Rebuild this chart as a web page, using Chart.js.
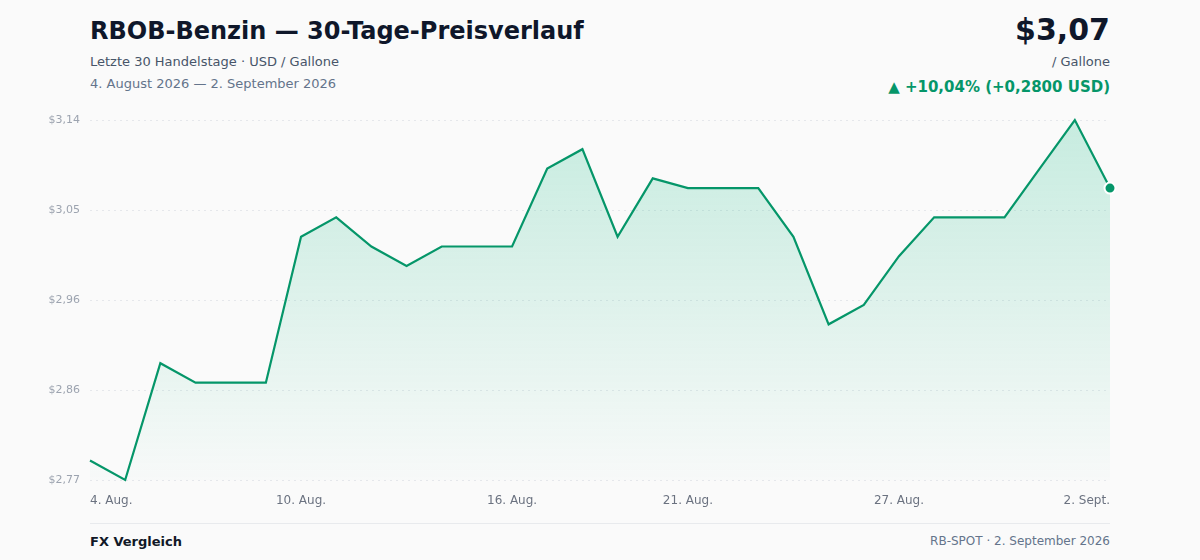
<!DOCTYPE html>
<html lang="de">
<head>
<meta charset="utf-8">
<title>RBOB-Benzin — 30-Tage-Preisverlauf</title>
<script src="https://cdn.jsdelivr.net/npm/chart.js@4/dist/chart.umd.min.js"></script>
<style>
  html, body { margin: 0; padding: 0; background: #fafafa; }
  body { width: 1200px; height: 560px; position: relative; overflow: hidden; font-family: "DejaVu Sans", sans-serif; }
  .title { position: absolute; left: 90px; top: 17px; font-size: 24px; font-weight: bold; color: #0f172a; }
  .sub { position: absolute; left: 90px; top: 54px; font-size: 13px; color: #475569; }
  .dates { position: absolute; left: 90px; top: 76px; font-size: 13px; color: #64748b; }
  .price { position: absolute; right: 90px; top: 12px; font-size: 30px; font-weight: bold; color: #0f172a; }
  .unit { position: absolute; right: 90px; top: 54px; font-size: 13px; color: #475569; }
  .change { position: absolute; right: 90px; top: 78px; font-size: 15px; font-weight: bold; color: #059669; }
  #wrap { position: absolute; left: 0; top: 100px; width: 1200px; height: 420px; }
  .sep { position: absolute; left: 90px; top: 523px; width: 1020px; height: 1px; background: #e8eaed; }
  .foot-l { position: absolute; left: 90px; top: 534px; font-size: 13px; font-weight: bold; color: #111827; }
  .foot-r { position: absolute; right: 90px; top: 534px; font-size: 12px; color: #64748b; }
</style>
</head>
<body>
<div class="title">RBOB-Benzin — 30-Tage-Preisverlauf</div>
<div class="sub">Letzte 30 Handelstage · USD / Gallone</div>
<div class="dates">4. August 2026 — 2. September 2026</div>
<div class="price">$3,07</div>
<div class="unit">/ Gallone</div>
<div class="change">▲ +10,04% (+0,2800 USD)</div>
<div id="wrap"><canvas id="chart"></canvas></div>
<div class="sep"></div>
<div class="foot-l">FX Vergleich</div>
<div class="foot-r">RB-SPOT · 2. September 2026</div>

<script>
const days = [
  "4. Aug.", "5. Aug.", "6. Aug.", "7. Aug.", "8. Aug.", "9. Aug.", "10. Aug.",
  "11. Aug.", "12. Aug.", "13. Aug.", "14. Aug.", "15. Aug.", "16. Aug.", "17. Aug.",
  "18. Aug.", "19. Aug.", "20. Aug.", "21. Aug.", "22. Aug.", "23. Aug.", "24. Aug.",
  "25. Aug.", "26. Aug.", "27. Aug.", "28. Aug.", "29. Aug.", "30. Aug.", "31. Aug.",
  "1. Sept.", "2. Sept."
];
const prices = [
  2.79, 2.77, 2.89, 2.87, 2.87, 2.87, 3.02, 3.04, 3.01, 2.99,
  3.01, 3.01, 3.01, 3.09, 3.11, 3.02, 3.08, 3.07, 3.07, 3.07,
  3.02, 2.93, 2.95, 3.00, 3.04, 3.04, 3.04, 3.09, 3.14, 3.07
];
const shownDayIdx = [0, 6, 12, 17, 23, 29];
const yTickValues = [2.77, 2.8625, 2.955, 3.0475, 3.14];
const yTickLabels = ["$2,77", "$2,86", "$2,96", "$3,05", "$3,14"];

const green = "#059669";

function fillGradient(ctx) {
  const area = ctx.chart.chartArea;
  if (!area) return "rgba(5,150,105,0.15)";
  const g = ctx.chart.ctx.createLinearGradient(0, area.top, 0, area.bottom);
  g.addColorStop(0, "rgba(16,185,129,0.22)");
  g.addColorStop(1, "rgba(16,185,129,0.01)");
  return g;
}

const last = prices.length - 1;

new Chart(document.getElementById("chart"), {
  type: "line",
  data: {
    labels: days,
    datasets: [
      {
        data: prices,
        borderColor: green,
        borderWidth: 2.2,
        tension: 0,
        fill: "start",
        backgroundColor: fillGradient,
        pointRadius: prices.map((_, i) => (i === last ? 5.5 : 0)),
        pointBackgroundColor: green,
        pointBorderColor: "#ffffff",
        pointBorderWidth: 2,
        clip: false,
      },
    ],
  },
  options: {
    responsive: true,
    maintainAspectRatio: false,
    animation: false,
    events: [],
    layout: { padding: { top: 20, right: 90, bottom: 0, left: 0 } },
    plugins: { legend: { display: false }, tooltip: { enabled: false } },
    scales: {
      x: {
        offset: false,
        grid: { display: false, drawTicks: false },
        border: { display: false },
        afterFit: (s) => { s.height = 40; },
        ticks: {
          autoSkip: false,
          maxRotation: 0,
          align: "inner",
          padding: 14,
          color: "#6b7280",
          font: { family: "DejaVu Sans", size: 12 },
          callback: (v, i) => (shownDayIdx.includes(i) ? days[i] : ""),
        },
      },
      y: {
        min: 2.77,
        max: 3.14,
        afterFit: (s) => { s.width = 90; },
        afterBuildTicks: (s) => { s.ticks = yTickValues.map((v) => ({ value: v })); },
        grid: { color: "#e5e7eb", drawTicks: false, lineWidth: 1 },
        border: { display: false, dash: [2, 4] },
        ticks: {
          padding: 10,
          color: "#9ca3af",
          font: { family: "DejaVu Sans", size: 11 },
          callback: (v, i) => yTickLabels[i],
        },
      },
    },
  },
});
</script>
</body>
</html>
